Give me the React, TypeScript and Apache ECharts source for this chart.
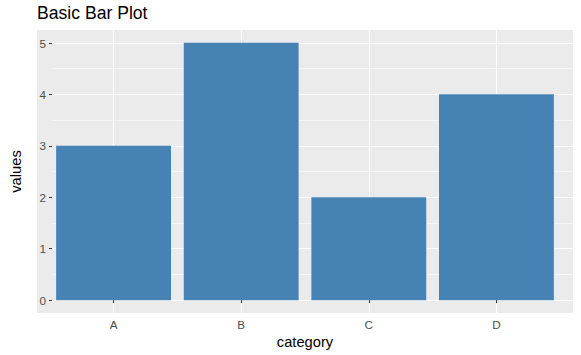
import React, { useEffect, useRef } from "react";
import * as echarts from "echarts";

const categories = ["A", "B", "C", "D"];
const values = [3, 5, 2, 4];
const yTicks = [0, 1, 2, 3, 4, 5];

const FONT = "'Liberation Sans', Arial, sans-serif";

export default function App() {
  const ref = useRef<HTMLDivElement>(null);
  useEffect(() => {
    if (!ref.current) return;
    const chart = echarts.init(ref.current, null, { renderer: "svg" });
    const panelL = 37, panelR = 573, panelT = 30, panelB = 313;
    const unit = (panelR - panelL) / 4.2;
    const aX = panelL + 0.6 * unit;
    const dX = aX + 3 * unit;
    const y0 = 300, y5 = 43;
    chart.setOption({
      animation: false,
      backgroundColor: "#FFFFFF",
      title: {
        text: "Basic Bar Plot",
        left: 37,
        top: 4,
        padding: 0,
        textStyle: { fontFamily: FONT, fontSize: 17.6, fontWeight: "normal", color: "#000000" },
      },
      graphic: [
        {
          type: "rect",
          z: -10,
          shape: { x: panelL, y: panelT, width: panelR - panelL, height: panelB - panelT },
          style: { fill: "#EBEBEB" },
          silent: true,
        },
      ],
      grid: [
        { left: panelL, right: 581 - panelR, top: y5, bottom: 355 - y0, show: false },
        { left: aX, right: 581 - dX, top: panelT, bottom: 355 - panelB, show: false },
      ],
      xAxis: [
        { gridIndex: 0, type: "value", min: 0, max: 1, show: false },
        {
          gridIndex: 1,
          type: "category",
          data: categories,
          boundaryGap: false,
          name: "category",
          nameLocation: "middle",
          nameGap: 21,
          nameTextStyle: { fontFamily: FONT, fontSize: 14.7, color: "#000000" },
          axisLine: { show: false },
          axisTick: { show: true, length: 3, lineStyle: { color: "#333333", width: 1 } },
          axisLabel: { fontFamily: FONT, fontSize: 11.7, color: "#4D4D4D", margin: 5 },
          splitLine: { show: true, lineStyle: { color: "#FFFFFF", width: 1.1 } },
        },
      ],
      yAxis: [
        {
          gridIndex: 0,
          type: "value",
          min: yTicks[0],
          max: yTicks[yTicks.length - 1],
          interval: 1,
          name: "values",
          nameLocation: "middle",
          nameGap: 29,
          nameTextStyle: { fontFamily: FONT, fontSize: 14.7, color: "#000000" },
          axisLine: { show: false },
          axisTick: { show: true, length: 3, lineStyle: { color: "#333333", width: 1 } },
          axisLabel: { fontFamily: FONT, fontSize: 11.7, color: "#4D4D4D", margin: 6 },
          splitLine: { show: true, lineStyle: { color: "#FFFFFF", width: 1.1 } },
          minorTick: { show: false, splitNumber: 2 },
          minorSplitLine: { show: true, lineStyle: { color: "#FFFFFF", width: 0.55 } },
        },
        { gridIndex: 1, type: "value", min: -0.25, max: 5.25, show: false },
      ],
      series: [
        {
          type: "bar",
          xAxisIndex: 1,
          yAxisIndex: 1,
          data: values,
          barWidth: 0.9 * unit,
          clip: false,
          itemStyle: { color: "#4682B4" },
          silent: true,
        },
      ],
    });
    return () => chart.dispose();
  }, []);
  return <div ref={ref} style={{ width: 581, height: 355, position: "absolute", left: 0, top: 0 }} />;
}
